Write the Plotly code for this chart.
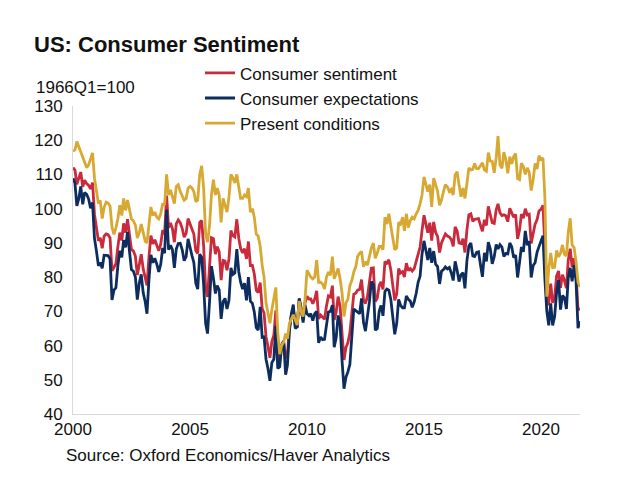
import pandas as pd
import plotly.graph_objects as go

# Monthly index values, 1966Q1=100 (Jan 2000 - Sep 2021)
sentiment = [
    112.0, 111.3, 107.1, 109.2, 110.7, 106.4, 108.3, 107.3, 106.8, 105.8, 107.6, 98.4,
    94.7, 90.6, 91.5, 88.4, 92.0, 92.6, 92.4, 91.5, 81.8, 82.7, 83.9, 88.8,
    93.0, 90.7, 95.7, 93.0, 96.9, 92.4, 88.1, 87.6, 86.1, 80.6, 84.2, 86.7,
    82.4, 79.9, 77.6, 86.0, 92.1, 89.7, 90.9, 89.3, 87.7, 89.6, 93.7, 92.6,
    103.8, 94.4, 95.8, 94.2, 90.2, 95.6, 96.7, 95.9, 94.2, 91.7, 92.8, 97.1,
    95.5, 94.1, 92.6, 87.7, 86.9, 96.0, 96.5, 89.1, 76.9, 74.2, 81.6, 91.5,
    91.2, 86.7, 88.9, 87.4, 79.1, 84.9, 84.7, 82.0, 85.4, 93.6, 92.1, 91.7,
    96.9, 91.3, 88.4, 87.1, 88.3, 85.3, 90.4, 83.4, 83.4, 80.9, 76.1, 75.5,
    78.4, 70.8, 69.5, 62.6, 59.8, 56.4, 61.2, 63.0, 70.3, 57.6, 55.3, 60.1,
    61.2, 56.3, 57.3, 65.1, 68.7, 70.8, 66.0, 65.7, 73.5, 70.6, 67.4, 72.5,
    74.4, 73.6, 73.6, 72.2, 73.6, 76.0, 67.8, 68.9, 68.2, 67.7, 71.6, 74.5,
    74.2, 77.5, 67.5, 69.8, 74.3, 71.5, 63.7, 55.8, 59.5, 60.8, 63.7, 69.9,
    75.0, 75.3, 76.2, 76.4, 79.3, 73.2, 72.3, 74.3, 78.3, 82.6, 82.7, 72.9,
    73.8, 77.6, 78.6, 76.4, 84.5, 84.1, 85.1, 82.1, 77.5, 73.2, 75.1, 82.5,
    81.2, 81.6, 80.0, 84.1, 81.9, 82.5, 81.8, 82.5, 84.6, 86.9, 88.8, 93.6,
    98.1, 95.4, 93.0, 95.9, 90.7, 96.1, 93.1, 91.9, 87.2, 90.0, 91.3, 92.6,
    92.0, 91.7, 91.0, 89.0, 94.7, 93.5, 90.0, 89.8, 91.2, 87.2, 93.8, 98.2,
    98.5, 96.3, 96.9, 97.0, 97.1, 95.1, 93.4, 96.8, 95.1, 100.7, 98.5, 95.9,
    95.7, 99.7, 101.4, 98.8, 98.0, 98.2, 97.9, 96.2, 100.1, 98.6, 97.5, 98.3,
    91.2, 93.8, 98.4, 97.2, 100.0, 98.2, 98.4, 89.8, 93.2, 95.5, 96.8, 99.3,
    99.8, 101.0, 89.1, 71.8, 72.3, 78.1, 72.5, 74.1, 80.4, 81.8, 76.9, 80.7,
    79.0, 76.8, 84.9, 88.3, 82.9, 85.5, 81.2, 70.3, 71.0,
]

expectations = [
    108.9, 107.4, 100.8, 103.0, 106.5, 101.3, 104.7, 104.2, 102.8, 100.1, 101.8, 91.4,
    87.6, 83.3, 84.3, 82.6, 86.4, 86.4, 86.3, 85.3, 73.3, 76.2, 76.9, 83.3,
    87.7, 85.8, 90.8, 88.7, 93.2, 87.5, 82.2, 81.7, 80.0, 73.4, 78.3, 80.8,
    75.4, 72.8, 69.3, 79.3, 86.5, 84.2, 85.5, 83.8, 81.5, 83.7, 88.5, 87.0,
    99.7, 88.0, 89.3, 88.0, 82.7, 88.3, 89.8, 89.9, 88.0, 84.8, 86.0, 91.2,
    88.2, 86.2, 84.3, 78.2, 76.5, 86.7, 85.8, 77.8, 66.5, 63.5, 72.7, 83.2,
    79.7, 75.2, 77.5, 76.3, 67.8, 72.8, 73.8, 70.7, 73.3, 82.7, 80.8, 81.2,
    88.2, 81.5, 78.6, 76.5, 78.2, 73.2, 80.0, 73.0, 72.3, 69.8, 65.2, 64.5,
    71.3, 62.4, 62.5, 56.0, 53.3, 49.7, 55.0, 56.0, 65.8, 53.3, 53.8, 60.2,
    61.3, 51.5, 54.2, 64.2, 69.2, 72.0, 65.0, 65.5, 73.8, 71.0, 66.7, 71.8,
    69.3, 68.7, 69.3, 67.3, 69.3, 70.0, 60.8, 62.5, 61.7, 61.8, 66.0, 69.8,
    70.0, 71.8, 59.5, 62.3, 68.8, 66.2, 55.8, 47.4, 50.8, 52.3, 54.5, 63.8,
    70.7, 70.2, 69.7, 69.3, 73.8, 66.7, 64.2, 68.0, 72.8, 78.7, 77.8, 64.5,
    65.0, 70.0, 71.7, 68.7, 75.8, 76.5, 76.2, 73.5, 67.5, 63.3, 66.5, 73.5,
    71.7, 71.0, 71.0, 74.5, 73.5, 73.0, 71.2, 72.8, 75.3, 78.5, 80.3, 86.7,
    90.6, 87.7, 85.0, 88.5, 84.2, 87.6, 83.8, 83.1, 78.0, 81.7, 82.2, 83.0,
    82.4, 82.8, 81.3, 79.0, 84.6, 82.0, 78.7, 80.7, 81.3, 76.7, 84.8, 89.1,
    90.0, 86.2, 86.0, 87.2, 87.4, 83.5, 80.1, 87.1, 84.6, 90.2, 88.2, 83.9,
    86.0, 89.5, 88.2, 89.5, 88.8, 86.0, 86.9, 86.8, 90.0, 88.9, 85.7, 86.4,
    79.9, 84.4, 88.8, 87.4, 93.5, 89.3, 90.5, 79.9, 83.4, 84.2, 87.3, 88.9,
    90.5, 92.1, 79.7, 70.1, 65.9, 72.3, 65.9, 68.5, 75.6, 79.2, 70.5, 74.6,
    74.0, 70.7, 79.7, 82.7, 78.8, 83.5, 79.0, 65.1, 67.1,
]

present = [
    116.8, 117.2, 119.6, 118.0, 116.5, 114.6, 113.2, 112.0, 112.8, 114.4, 116.3, 108.9,
    105.3, 101.5, 102.4, 97.1, 100.4, 101.9, 101.6, 100.8, 94.6, 92.5, 94.4, 97.0,
    101.0, 98.0, 103.0, 99.5, 102.5, 99.8, 97.0, 96.4, 95.2, 91.4, 93.0, 95.5,
    93.0, 90.5, 90.0, 96.0, 100.5, 98.0, 99.0, 97.5, 97.0, 98.5, 101.5, 101.0,
    110.0, 104.0, 105.5, 103.5, 101.5, 106.5, 107.0, 105.0, 103.5, 102.5, 103.0, 106.0,
    106.5, 106.0, 105.0, 102.0, 102.5, 110.0, 112.5, 106.0, 92.5, 90.2, 95.0, 104.0,
    108.5, 104.0, 106.0, 104.0, 96.0, 103.0, 101.0, 99.0, 103.5, 110.0, 109.0, 107.5,
    110.0, 106.0, 103.0, 103.0, 104.0, 103.5, 106.0, 99.0, 100.0, 97.5, 92.5, 92.0,
    89.0, 83.5, 80.0, 72.5, 69.5, 66.5, 70.5, 73.5, 77.0, 64.0, 57.5, 60.0,
    61.0, 63.5, 62.0, 66.5, 68.0, 69.0, 67.5, 66.0, 73.0, 70.0, 68.5, 73.5,
    82.0, 81.0, 80.0, 79.5, 80.0, 85.0, 78.5, 78.5, 78.0, 76.5, 80.0, 81.5,
    80.5, 86.0, 79.5, 81.0, 82.5, 79.5, 75.5, 68.5, 72.5, 73.5, 77.5, 79.0,
    81.5, 83.0, 86.0, 87.0, 87.5, 83.0, 84.5, 83.5, 86.5, 88.5, 90.0, 85.5,
    87.0, 89.0, 89.0, 88.0, 97.5, 95.5, 98.5, 95.0, 92.5, 88.0, 88.5, 96.0,
    95.5, 97.5, 93.5, 98.5, 94.5, 96.5, 97.5, 97.0, 98.5, 99.5, 101.5, 104.0,
    109.3, 106.9, 105.0, 107.0, 100.5, 108.9, 107.0, 105.1, 101.0, 102.5, 105.0, 107.0,
    106.4, 105.0, 105.6, 104.0, 109.9, 110.8, 107.0, 103.5, 106.0, 103.0, 107.3, 111.9,
    111.3, 111.5, 113.2, 111.7, 111.7, 112.5, 113.4, 111.3, 110.9, 116.4, 113.9, 113.8,
    110.5, 114.9, 121.2, 112.8, 111.8, 116.5, 114.4, 110.3, 115.2, 113.1, 115.2, 116.1,
    108.8, 108.5, 113.3, 112.3, 110.0, 111.9, 110.7, 105.3, 108.5, 113.2, 111.6, 115.5,
    114.4, 114.8, 103.7, 74.3, 82.3, 87.1, 82.8, 82.9, 87.8, 85.9, 87.0, 89.4,
    86.7, 86.2, 93.0, 97.2, 89.4, 88.6, 84.5, 78.5, 77.1,
]

dates = pd.date_range("2000-01-01", periods=len(sentiment), freq="MS")

series_names = ["Consumer sentiment", "Consumer expectations", "Present conditions"]
series_values = [sentiment, expectations, present]
series_colors = ["#C92A3C", "#0E2D5F", "#D8A932"]

year_ticks = ["2000", "2005", "2010", "2015", "2020"]

FONT = "Liberation Sans, Arial, sans-serif"
TXT = "#111111"

fig = go.Figure()
for name, vals, col in zip(series_names, series_values, series_colors):
    fig.add_trace(go.Scatter(
        x=dates, y=vals, name=name, mode="lines",
        line=dict(color=col, width=2.8),
        hoverinfo="x+y+name",
    ))

fig.update_layout(
    width=630, height=499,
    margin=dict(l=73, r=50, t=106, b=85, autoexpand=False),
    paper_bgcolor="white", plot_bgcolor="white",
    font=dict(family=FONT, size=17, color=TXT),
    title=dict(
        text="US: Consumer Sentiment",
        font=dict(family=FONT, size=22, color=TXT, weight="bold"),
        x=34 / 630, xref="container", xanchor="left",
        y=1 - 44 / 499, yref="container", yanchor="middle",
    ),
    legend=dict(
        x=(200 - 73) / 507, y=1.1645, xanchor="left", yanchor="top",
        bgcolor="rgba(0,0,0,0)", borderwidth=0,
        font=dict(family=FONT, size=17, color=TXT),
        tracegroupgap=0,
    ),
    showlegend=True,
)

fig.update_xaxes(
    type="date",
    range=["2000-01-01", "2021-09-01"],
    tickvals=[f"{y}-01-01" for y in year_ticks],
    ticktext=year_ticks,
    showgrid=False, zeroline=False,
    showline=True, linecolor="#D9D9D9", linewidth=1,
    ticks="", tickfont=dict(family=FONT, size=17, color=TXT),
)
fig.update_yaxes(
    range=[40, 130], dtick=10, tick0=40,
    showgrid=False, zeroline=False,
    showline=True, linecolor="#D9D9D9", linewidth=1,
    ticks="", ticklabelstandoff=6,
    tickfont=dict(family=FONT, size=17, color=TXT),
)

fig.add_annotation(
    text="1966Q1=100", xref="paper", yref="paper",
    x=(34 - 73) / 507, y=(414 - 87.5) / 308,
    xanchor="left", yanchor="middle", showarrow=False,
    font=dict(family=FONT, size=17, color=TXT),
)
fig.add_annotation(
    text="Source: Oxford Economics/Haver Analytics", xref="paper", yref="paper",
    x=(64 - 73) / 507, y=(414 - 456) / 308,
    xanchor="left", yanchor="middle", showarrow=False,
    font=dict(family=FONT, size=17, color=TXT),
)

# remove the browser's default 8px page margin so the figure sits at the window origin
fig.write_html(
    "out.html",
    config={"displayModeBar": False},
    post_script="document.body.style.margin='0';",
)
